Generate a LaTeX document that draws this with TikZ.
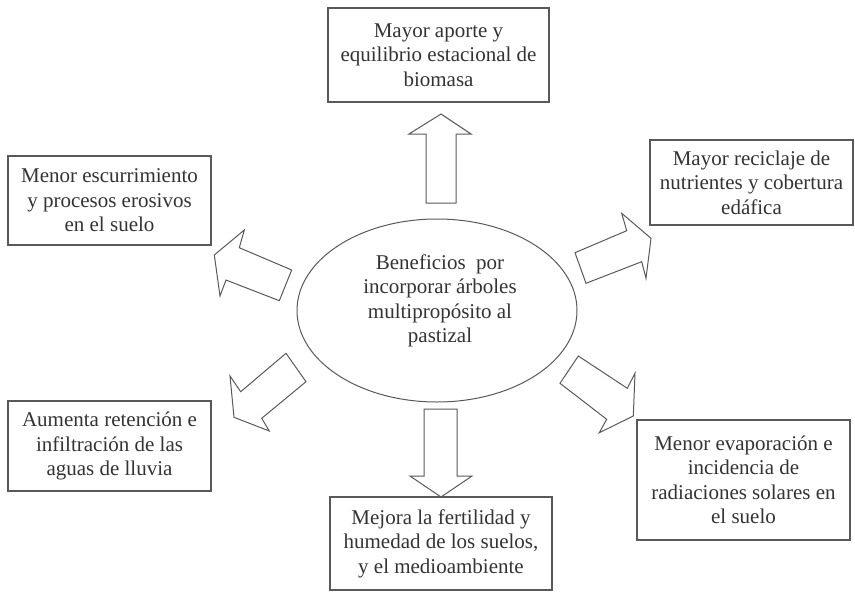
\documentclass[tikz,border=0pt]{standalone}
\usepackage{fontspec}
\setmainfont{Liberation Serif}
\usetikzlibrary{shapes.geometric}
\begin{document}
\begin{tikzpicture}[x=1pt,y=-1pt,
  texto/.style={align=center,text=black!80,font=\fontsize{21}{24.5}\selectfont,inner sep=0pt},
  caja/.style={texto,draw=black!65,line width=1.3pt},
  flecha/.style={draw=black!65,line width=1pt,line join=miter}]
\useasboundingbox (0,0) rectangle (855,592);
\node[ellipse,draw=black!65,line width=1pt,minimum width=280pt,minimum height=183pt,inner sep=0pt] (centro) at (437,310.5) {};
\node[texto] (beneficios) at (440,301) {Beneficios\ \ por\\incorporar árboles\\multipropósito al\\pastizal};
\node[caja,minimum width=221pt,minimum height=94pt] (biomasa) at (438.5,55) {Mayor aporte y\\equilibrio estacional de\\biomasa};
\node[caja,minimum width=203pt,minimum height=85pt] (reciclaje) at (751.5,182.5) {Mayor reciclaje de\\nutrientes y cobertura\\edáfica};
\node[caja,minimum width=203pt,minimum height=89pt] (escurrimiento) at (109.5,200.5) {Menor escurrimiento\\y procesos erosivos\\en el suelo};
\node[caja,minimum width=203pt,minimum height=90pt] (retencion) at (109.5,446) {Aumenta retención e\\infiltración de las\\aguas de lluvia};
\node[caja,minimum width=213pt,minimum height=120pt] (evaporacion) at (743.5,480) {Menor evaporación e\\incidencia de\\radiaciones solares en\\el suelo};
\node[caja,minimum width=222pt,minimum height=93pt] (fertilidad) at (441,543.5) {Mejora la fertilidad y\\humedad de los suelos,\\y el medioambiente};
\draw[flecha] (426,203)--(426,134)--(409,134)--(441,114)--(471,134)--(456,134)--(456,203)--cycle;
\draw[flecha] (424,409)--(457,409)--(457,476)--(472,476)--(441,497)--(410,476)--(424,476)--cycle;
\draw[flecha] (291.7,270)--(239.3,247.7)--(244.3,230)--(214.3,255)--(220,296)--(226,280)--(279.3,300.7)--cycle;
\draw[flecha] (286,353.3)--(306,381.7)--(261.7,418.3)--(269.3,431)--(234,417.3)--(230,376)--(240.7,391.7)--cycle;
\draw[flecha] (575,252.7)--(626.7,230.7)--(621.7,213.3)--(651,238.3)--(646,278.3)--(641.7,261.7)--(586,283.3)--cycle;
\draw[flecha] (578.3,356)--(627.3,388.3)--(635,373.3)--(633.3,416)--(599.3,432.7)--(606.7,419.3)--(560,383.3)--cycle;
\end{tikzpicture}
\end{document}
